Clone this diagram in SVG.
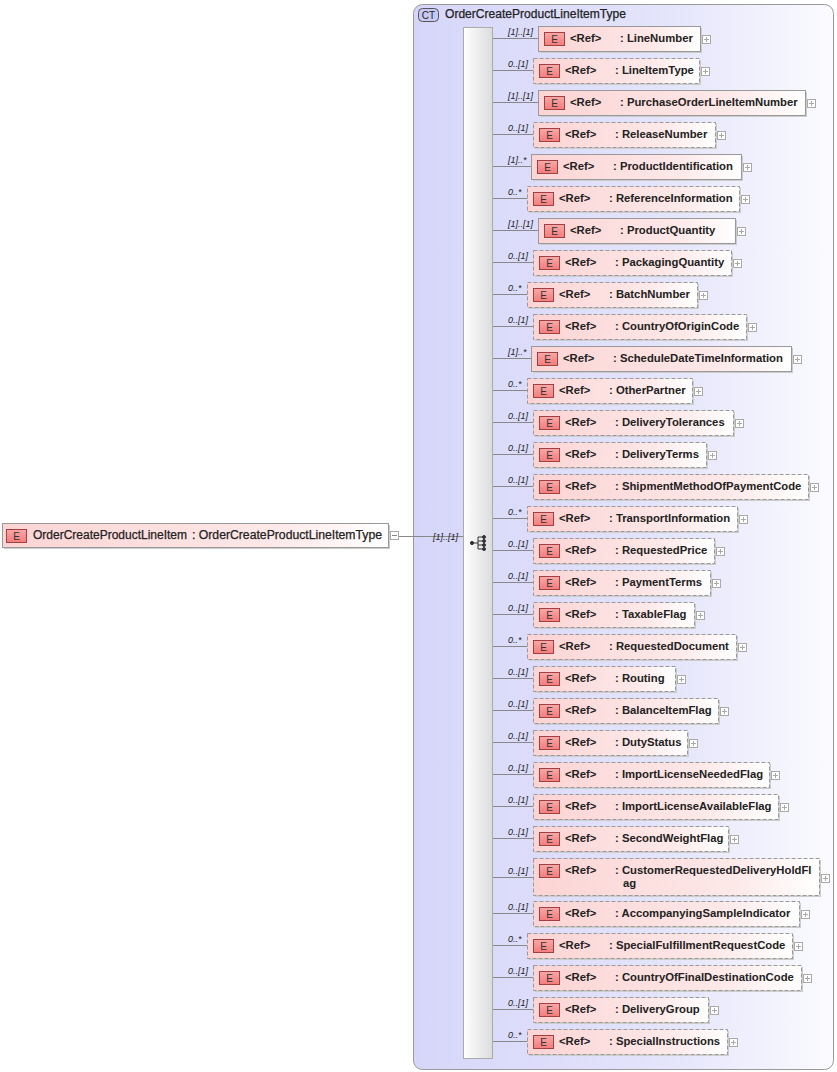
<svg xmlns="http://www.w3.org/2000/svg" width="837" height="1072" viewBox="0 0 837 1072">
<defs>
<linearGradient id="ct" x1="0" y1="0" x2="1" y2="0"><stop offset="0" stop-color="#d6d6fa"/><stop offset="0.6" stop-color="#e4e4fb"/><stop offset="1" stop-color="#fbfbff"/></linearGradient>
<linearGradient id="el" x1="0" y1="0" x2="1" y2="0"><stop offset="0" stop-color="#fcd4d4"/><stop offset="0.7" stop-color="#fde8e8"/><stop offset="1" stop-color="#ffffff"/></linearGradient>
<linearGradient id="seq" x1="0" y1="0" x2="1" y2="0"><stop offset="0" stop-color="#ffffff"/><stop offset="1" stop-color="#dcdcdc"/></linearGradient>
<linearGradient id="eb" x1="0" y1="0" x2="0" y2="1"><stop offset="0" stop-color="#f8a8a8"/><stop offset="1" stop-color="#f47c7c"/></linearGradient>
</defs>
<style>
text{font-family:"Liberation Sans",Arial,sans-serif;fill:#222}
.n{font-size:11.3px;font-weight:bold}
.m{font-size:9px;font-style:italic}
.ln{stroke:#888;stroke-width:1;fill:none}
.bx{fill:url(#el);stroke:#999;stroke-width:1}
.op{stroke-dasharray:4,2}
.sh{fill:#ccc}
.eb{fill:url(#eb);stroke:#a04040;stroke-width:1}
.et{font-size:10px;fill:#333}
.pl{fill:#fff;stroke:#aaa;stroke-width:1}
.rt{font-size:12px;fill:#222;stroke:#222;stroke-width:0.25}
</style>
<g id="ct-box">
<rect x="413.5" y="4.5" width="420" height="1065" rx="9" fill="url(#ct)" stroke="#999"/>
<rect x="418.5" y="8.5" width="20" height="13" rx="4" fill="#c8c8f4" stroke="#555"/>
<text x="428.5" y="19" text-anchor="middle" style="font-size:10px">CT</text>
<text x="445" y="18" class="rt" textLength="181" lengthAdjust="spacingAndGlyphs">OrderCreateProductLineItemType</text>
</g>
<g id="sequence">
<rect x="463.5" y="27.5" width="29" height="1031" fill="url(#seq)" stroke="#aaa"/>
<g fill="#333" stroke="#333">
<circle cx="472" cy="543" r="1.6"/>
<line x1="472" y1="543" x2="478" y2="543"/>
<line x1="478" y1="537" x2="478" y2="549"/>
<line x1="478" y1="537" x2="484" y2="537"/><line x1="478" y1="541" x2="484" y2="541"/><line x1="478" y1="545" x2="484" y2="545"/><line x1="478" y1="549" x2="484" y2="549"/>
<circle cx="484" cy="537" r="1.5"/><circle cx="484" cy="541" r="1.5"/><circle cx="484" cy="545" r="1.5"/><circle cx="484" cy="549" r="1.5"/>
</g>
</g>
<g id="connectors">
<line class="ln" x1="399" y1="536.5" x2="463" y2="536.5"/>
<text x="433" y="540" class="m">[1]..[1]</text>
</g>
<g id="root">
<rect class="sh" x="4" y="525" width="386" height="24"/>
<rect class="bx" x="2.5" y="523.5" width="386" height="24"/>
<rect class="eb" x="6.5" y="529.5" width="20" height="13"/>
<text x="16.5" y="540" text-anchor="middle" class="et">E</text>
<text x="33" y="539" class="rt" textLength="154" lengthAdjust="spacingAndGlyphs">OrderCreateProductLineItem</text>
<text x="192" y="539" class="rt" textLength="190" lengthAdjust="spacingAndGlyphs">: OrderCreateProductLineItemType</text>
<rect class="pl" x="390.5" y="531.5" width="8" height="8"/>
<line x1="392" y1="535.5" x2="397" y2="535.5" stroke="#888"/>
</g>
<g id="r1"><line class="ln" x1="493" y1="38.5" x2="538" y2="38.5"/><text x="508" y="35" class="m">[1]..[1]</text><rect class="sh" x="540" y="28" width="162" height="25"/><rect class="bx" x="538.5" y="26.5" width="162" height="25"/><rect class="eb" x="544.5" y="32.5" width="20" height="13"/><text x="554.5" y="43" text-anchor="middle" class="et">E</text><text x="570" y="42" class="n">&lt;Ref&gt;</text><text x="620" y="42" class="n">: LineNumber</text><rect class="pl" x="702.5" y="35.5" width="8" height="8"/><path d="M704 39.5h5M706.5 37v5" stroke="#aaa"/></g>
<g id="r2"><line class="ln" x1="493" y1="70.5" x2="533" y2="70.5"/><text x="508" y="67" class="m">0..[1]</text><rect class="sh" x="535" y="60" width="166" height="25"/><rect class="bx op" x="533.5" y="58.5" width="166" height="25"/><rect class="eb" x="539.5" y="64.5" width="20" height="13"/><text x="549.5" y="75" text-anchor="middle" class="et">E</text><text x="565" y="74" class="n">&lt;Ref&gt;</text><text x="615" y="74" class="n">: LineItemType</text><rect class="pl" x="701.5" y="67.5" width="8" height="8"/><path d="M703 71.5h5M705.5 69v5" stroke="#aaa"/></g>
<g id="r3"><line class="ln" x1="493" y1="102.5" x2="538" y2="102.5"/><text x="508" y="99" class="m">[1]..[1]</text><rect class="sh" x="540" y="92" width="267" height="25"/><rect class="bx" x="538.5" y="90.5" width="267" height="25"/><rect class="eb" x="544.5" y="96.5" width="20" height="13"/><text x="554.5" y="107" text-anchor="middle" class="et">E</text><text x="570" y="106" class="n">&lt;Ref&gt;</text><text x="620" y="106" class="n">: PurchaseOrderLineItemNumber</text><rect class="pl" x="807.5" y="99.5" width="8" height="8"/><path d="M809 103.5h5M811.5 101v5" stroke="#aaa"/></g>
<g id="r4"><line class="ln" x1="493" y1="134.5" x2="533" y2="134.5"/><text x="508" y="131" class="m">0..[1]</text><rect class="sh" x="535" y="124" width="182" height="25"/><rect class="bx op" x="533.5" y="122.5" width="182" height="25"/><rect class="eb" x="539.5" y="128.5" width="20" height="13"/><text x="549.5" y="139" text-anchor="middle" class="et">E</text><text x="565" y="138" class="n">&lt;Ref&gt;</text><text x="615" y="138" class="n">: ReleaseNumber</text><rect class="pl" x="717.5" y="131.5" width="8" height="8"/><path d="M719 135.5h5M721.5 133v5" stroke="#aaa"/></g>
<g id="r5"><line class="ln" x1="493" y1="166.5" x2="531" y2="166.5"/><text x="508" y="163" class="m">[1]..*</text><rect class="sh" x="533" y="156" width="210" height="25"/><rect class="bx" x="531.5" y="154.5" width="210" height="25"/><rect class="eb" x="537.5" y="160.5" width="20" height="13"/><text x="547.5" y="171" text-anchor="middle" class="et">E</text><text x="563" y="170" class="n">&lt;Ref&gt;</text><text x="613" y="170" class="n">: ProductIdentification</text><rect class="pl" x="743.5" y="163.5" width="8" height="8"/><path d="M745 167.5h5M747.5 165v5" stroke="#aaa"/></g>
<g id="r6"><line class="ln" x1="493" y1="198.5" x2="527" y2="198.5"/><text x="508" y="195" class="m">0..*</text><rect class="sh" x="529" y="188" width="212" height="25"/><rect class="bx op" x="527.5" y="186.5" width="212" height="25"/><rect class="eb" x="533.5" y="192.5" width="20" height="13"/><text x="543.5" y="203" text-anchor="middle" class="et">E</text><text x="559" y="202" class="n">&lt;Ref&gt;</text><text x="609" y="202" class="n">: ReferenceInformation</text><rect class="pl" x="741.5" y="195.5" width="8" height="8"/><path d="M743 199.5h5M745.5 197v5" stroke="#aaa"/></g>
<g id="r7"><line class="ln" x1="493" y1="230.5" x2="538" y2="230.5"/><text x="508" y="227" class="m">[1]..[1]</text><rect class="sh" x="540" y="220" width="197" height="25"/><rect class="bx" x="538.5" y="218.5" width="197" height="25"/><rect class="eb" x="544.5" y="224.5" width="20" height="13"/><text x="554.5" y="235" text-anchor="middle" class="et">E</text><text x="570" y="234" class="n">&lt;Ref&gt;</text><text x="620" y="234" class="n">: ProductQuantity</text><rect class="pl" x="737.5" y="227.5" width="8" height="8"/><path d="M739 231.5h5M741.5 229v5" stroke="#aaa"/></g>
<g id="r8"><line class="ln" x1="493" y1="262.5" x2="533" y2="262.5"/><text x="508" y="259" class="m">0..[1]</text><rect class="sh" x="535" y="252" width="198" height="25"/><rect class="bx op" x="533.5" y="250.5" width="198" height="25"/><rect class="eb" x="539.5" y="256.5" width="20" height="13"/><text x="549.5" y="267" text-anchor="middle" class="et">E</text><text x="565" y="266" class="n">&lt;Ref&gt;</text><text x="615" y="266" class="n">: PackagingQuantity</text><rect class="pl" x="733.5" y="259.5" width="8" height="8"/><path d="M735 263.5h5M737.5 261v5" stroke="#aaa"/></g>
<g id="r9"><line class="ln" x1="493" y1="294.5" x2="527" y2="294.5"/><text x="508" y="291" class="m">0..*</text><rect class="sh" x="529" y="284" width="170" height="25"/><rect class="bx op" x="527.5" y="282.5" width="170" height="25"/><rect class="eb" x="533.5" y="288.5" width="20" height="13"/><text x="543.5" y="299" text-anchor="middle" class="et">E</text><text x="559" y="298" class="n">&lt;Ref&gt;</text><text x="609" y="298" class="n">: BatchNumber</text><rect class="pl" x="699.5" y="291.5" width="8" height="8"/><path d="M701 295.5h5M703.5 293v5" stroke="#aaa"/></g>
<g id="r10"><line class="ln" x1="493" y1="326.5" x2="533" y2="326.5"/><text x="508" y="323" class="m">0..[1]</text><rect class="sh" x="535" y="316" width="213" height="25"/><rect class="bx op" x="533.5" y="314.5" width="213" height="25"/><rect class="eb" x="539.5" y="320.5" width="20" height="13"/><text x="549.5" y="331" text-anchor="middle" class="et">E</text><text x="565" y="330" class="n">&lt;Ref&gt;</text><text x="615" y="330" class="n">: CountryOfOriginCode</text><rect class="pl" x="748.5" y="323.5" width="8" height="8"/><path d="M750 327.5h5M752.5 325v5" stroke="#aaa"/></g>
<g id="r11"><line class="ln" x1="493" y1="358.5" x2="531" y2="358.5"/><text x="508" y="355" class="m">[1]..*</text><rect class="sh" x="533" y="348" width="260" height="25"/><rect class="bx" x="531.5" y="346.5" width="260" height="25"/><rect class="eb" x="537.5" y="352.5" width="20" height="13"/><text x="547.5" y="363" text-anchor="middle" class="et">E</text><text x="563" y="362" class="n">&lt;Ref&gt;</text><text x="613" y="362" class="n">: ScheduleDateTimeInformation</text><rect class="pl" x="793.5" y="355.5" width="8" height="8"/><path d="M795 359.5h5M797.5 357v5" stroke="#aaa"/></g>
<g id="r12"><line class="ln" x1="493" y1="390.5" x2="527" y2="390.5"/><text x="508" y="387" class="m">0..*</text><rect class="sh" x="529" y="380" width="165" height="25"/><rect class="bx op" x="527.5" y="378.5" width="165" height="25"/><rect class="eb" x="533.5" y="384.5" width="20" height="13"/><text x="543.5" y="395" text-anchor="middle" class="et">E</text><text x="559" y="394" class="n">&lt;Ref&gt;</text><text x="609" y="394" class="n">: OtherPartner</text><rect class="pl" x="694.5" y="387.5" width="8" height="8"/><path d="M696 391.5h5M698.5 389v5" stroke="#aaa"/></g>
<g id="r13"><line class="ln" x1="493" y1="422.5" x2="533" y2="422.5"/><text x="508" y="419" class="m">0..[1]</text><rect class="sh" x="535" y="412" width="200" height="25"/><rect class="bx op" x="533.5" y="410.5" width="200" height="25"/><rect class="eb" x="539.5" y="416.5" width="20" height="13"/><text x="549.5" y="427" text-anchor="middle" class="et">E</text><text x="565" y="426" class="n">&lt;Ref&gt;</text><text x="615" y="426" class="n">: DeliveryTolerances</text><rect class="pl" x="735.5" y="419.5" width="8" height="8"/><path d="M737 423.5h5M739.5 421v5" stroke="#aaa"/></g>
<g id="r14"><line class="ln" x1="493" y1="454.5" x2="533" y2="454.5"/><text x="508" y="451" class="m">0..[1]</text><rect class="sh" x="535" y="444" width="173" height="25"/><rect class="bx op" x="533.5" y="442.5" width="173" height="25"/><rect class="eb" x="539.5" y="448.5" width="20" height="13"/><text x="549.5" y="459" text-anchor="middle" class="et">E</text><text x="565" y="458" class="n">&lt;Ref&gt;</text><text x="615" y="458" class="n">: DeliveryTerms</text><rect class="pl" x="708.5" y="451.5" width="8" height="8"/><path d="M710 455.5h5M712.5 453v5" stroke="#aaa"/></g>
<g id="r15"><line class="ln" x1="493" y1="486.5" x2="533" y2="486.5"/><text x="508" y="483" class="m">0..[1]</text><rect class="sh" x="535" y="476" width="275" height="25"/><rect class="bx op" x="533.5" y="474.5" width="275" height="25"/><rect class="eb" x="539.5" y="480.5" width="20" height="13"/><text x="549.5" y="491" text-anchor="middle" class="et">E</text><text x="565" y="490" class="n">&lt;Ref&gt;</text><text x="615" y="490" class="n">: ShipmentMethodOfPaymentCode</text><rect class="pl" x="810.5" y="483.5" width="8" height="8"/><path d="M812 487.5h5M814.5 485v5" stroke="#aaa"/></g>
<g id="r16"><line class="ln" x1="493" y1="518.5" x2="527" y2="518.5"/><text x="508" y="515" class="m">0..*</text><rect class="sh" x="529" y="508" width="210" height="25"/><rect class="bx op" x="527.5" y="506.5" width="210" height="25"/><rect class="eb" x="533.5" y="512.5" width="20" height="13"/><text x="543.5" y="523" text-anchor="middle" class="et">E</text><text x="559" y="522" class="n">&lt;Ref&gt;</text><text x="609" y="522" class="n">: TransportInformation</text><rect class="pl" x="739.5" y="515.5" width="8" height="8"/><path d="M741 519.5h5M743.5 517v5" stroke="#aaa"/></g>
<g id="r17"><line class="ln" x1="493" y1="550.5" x2="533" y2="550.5"/><text x="508" y="547" class="m">0..[1]</text><rect class="sh" x="535" y="540" width="181" height="25"/><rect class="bx op" x="533.5" y="538.5" width="181" height="25"/><rect class="eb" x="539.5" y="544.5" width="20" height="13"/><text x="549.5" y="555" text-anchor="middle" class="et">E</text><text x="565" y="554" class="n">&lt;Ref&gt;</text><text x="615" y="554" class="n">: RequestedPrice</text><rect class="pl" x="716.5" y="547.5" width="8" height="8"/><path d="M718 551.5h5M720.5 549v5" stroke="#aaa"/></g>
<g id="r18"><line class="ln" x1="493" y1="582.5" x2="533" y2="582.5"/><text x="508" y="579" class="m">0..[1]</text><rect class="sh" x="535" y="572" width="177" height="25"/><rect class="bx op" x="533.5" y="570.5" width="177" height="25"/><rect class="eb" x="539.5" y="576.5" width="20" height="13"/><text x="549.5" y="587" text-anchor="middle" class="et">E</text><text x="565" y="586" class="n">&lt;Ref&gt;</text><text x="615" y="586" class="n">: PaymentTerms</text><rect class="pl" x="712.5" y="579.5" width="8" height="8"/><path d="M714 583.5h5M716.5 581v5" stroke="#aaa"/></g>
<g id="r19"><line class="ln" x1="493" y1="614.5" x2="533" y2="614.5"/><text x="508" y="611" class="m">0..[1]</text><rect class="sh" x="535" y="604" width="161" height="25"/><rect class="bx op" x="533.5" y="602.5" width="161" height="25"/><rect class="eb" x="539.5" y="608.5" width="20" height="13"/><text x="549.5" y="619" text-anchor="middle" class="et">E</text><text x="565" y="618" class="n">&lt;Ref&gt;</text><text x="615" y="618" class="n">: TaxableFlag</text><rect class="pl" x="696.5" y="611.5" width="8" height="8"/><path d="M698 615.5h5M700.5 613v5" stroke="#aaa"/></g>
<g id="r20"><line class="ln" x1="493" y1="646.5" x2="527" y2="646.5"/><text x="508" y="643" class="m">0..*</text><rect class="sh" x="529" y="636" width="209" height="25"/><rect class="bx op" x="527.5" y="634.5" width="209" height="25"/><rect class="eb" x="533.5" y="640.5" width="20" height="13"/><text x="543.5" y="651" text-anchor="middle" class="et">E</text><text x="559" y="650" class="n">&lt;Ref&gt;</text><text x="609" y="650" class="n">: RequestedDocument</text><rect class="pl" x="738.5" y="643.5" width="8" height="8"/><path d="M740 647.5h5M742.5 645v5" stroke="#aaa"/></g>
<g id="r21"><line class="ln" x1="493" y1="678.5" x2="533" y2="678.5"/><text x="508" y="675" class="m">0..[1]</text><rect class="sh" x="535" y="668" width="142" height="25"/><rect class="bx op" x="533.5" y="666.5" width="142" height="25"/><rect class="eb" x="539.5" y="672.5" width="20" height="13"/><text x="549.5" y="683" text-anchor="middle" class="et">E</text><text x="565" y="682" class="n">&lt;Ref&gt;</text><text x="615" y="682" class="n">: Routing</text><rect class="pl" x="677.5" y="675.5" width="8" height="8"/><path d="M679 679.5h5M681.5 677v5" stroke="#aaa"/></g>
<g id="r22"><line class="ln" x1="493" y1="710.5" x2="533" y2="710.5"/><text x="508" y="707" class="m">0..[1]</text><rect class="sh" x="535" y="700" width="185" height="25"/><rect class="bx op" x="533.5" y="698.5" width="185" height="25"/><rect class="eb" x="539.5" y="704.5" width="20" height="13"/><text x="549.5" y="715" text-anchor="middle" class="et">E</text><text x="565" y="714" class="n">&lt;Ref&gt;</text><text x="615" y="714" class="n">: BalanceItemFlag</text><rect class="pl" x="720.5" y="707.5" width="8" height="8"/><path d="M722 711.5h5M724.5 709v5" stroke="#aaa"/></g>
<g id="r23"><line class="ln" x1="493" y1="742.5" x2="533" y2="742.5"/><text x="508" y="739" class="m">0..[1]</text><rect class="sh" x="535" y="732" width="154" height="25"/><rect class="bx op" x="533.5" y="730.5" width="154" height="25"/><rect class="eb" x="539.5" y="736.5" width="20" height="13"/><text x="549.5" y="747" text-anchor="middle" class="et">E</text><text x="565" y="746" class="n">&lt;Ref&gt;</text><text x="615" y="746" class="n">: DutyStatus</text><rect class="pl" x="689.5" y="739.5" width="8" height="8"/><path d="M691 743.5h5M693.5 741v5" stroke="#aaa"/></g>
<g id="r24"><line class="ln" x1="493" y1="774.5" x2="533" y2="774.5"/><text x="508" y="771" class="m">0..[1]</text><rect class="sh" x="535" y="764" width="236" height="25"/><rect class="bx op" x="533.5" y="762.5" width="236" height="25"/><rect class="eb" x="539.5" y="768.5" width="20" height="13"/><text x="549.5" y="779" text-anchor="middle" class="et">E</text><text x="565" y="778" class="n">&lt;Ref&gt;</text><text x="615" y="778" class="n">: ImportLicenseNeededFlag</text><rect class="pl" x="771.5" y="771.5" width="8" height="8"/><path d="M773 775.5h5M775.5 773v5" stroke="#aaa"/></g>
<g id="r25"><line class="ln" x1="493" y1="806.5" x2="533" y2="806.5"/><text x="508" y="803" class="m">0..[1]</text><rect class="sh" x="535" y="796" width="245" height="25"/><rect class="bx op" x="533.5" y="794.5" width="245" height="25"/><rect class="eb" x="539.5" y="800.5" width="20" height="13"/><text x="549.5" y="811" text-anchor="middle" class="et">E</text><text x="565" y="810" class="n">&lt;Ref&gt;</text><text x="615" y="810" class="n">: ImportLicenseAvailableFlag</text><rect class="pl" x="780.5" y="803.5" width="8" height="8"/><path d="M782 807.5h5M784.5 805v5" stroke="#aaa"/></g>
<g id="r26"><line class="ln" x1="493" y1="838.5" x2="533" y2="838.5"/><text x="508" y="835" class="m">0..[1]</text><rect class="sh" x="535" y="828" width="195" height="25"/><rect class="bx op" x="533.5" y="826.5" width="195" height="25"/><rect class="eb" x="539.5" y="832.5" width="20" height="13"/><text x="549.5" y="843" text-anchor="middle" class="et">E</text><text x="565" y="842" class="n">&lt;Ref&gt;</text><text x="615" y="842" class="n">: SecondWeightFlag</text><rect class="pl" x="730.5" y="835.5" width="8" height="8"/><path d="M732 839.5h5M734.5 837v5" stroke="#aaa"/></g>
<g id="r27"><line class="ln" x1="493" y1="877.5" x2="533" y2="877.5"/><text x="508" y="874" class="m">0..[1]</text><rect class="sh" x="535" y="860" width="286" height="37"/><rect class="bx op" x="533.5" y="858.5" width="286" height="37"/><rect class="eb" x="539.5" y="864.5" width="20" height="13"/><text x="549.5" y="875" text-anchor="middle" class="et">E</text><text x="565" y="874" class="n">&lt;Ref&gt;</text><text x="615" y="874" class="n">: CustomerRequestedDeliveryHoldFl</text><text x="623" y="887" class="n">ag</text><rect class="pl" x="821.5" y="874.5" width="8" height="8"/><path d="M823 878.5h5M825.5 876v5" stroke="#aaa"/></g>
<g id="r28"><line class="ln" x1="493" y1="913.5" x2="533" y2="913.5"/><text x="508" y="910" class="m">0..[1]</text><rect class="sh" x="535" y="903" width="266" height="25"/><rect class="bx op" x="533.5" y="901.5" width="266" height="25"/><rect class="eb" x="539.5" y="907.5" width="20" height="13"/><text x="549.5" y="918" text-anchor="middle" class="et">E</text><text x="565" y="917" class="n">&lt;Ref&gt;</text><text x="615" y="917" class="n">: AccompanyingSampleIndicator</text><rect class="pl" x="801.5" y="910.5" width="8" height="8"/><path d="M803 914.5h5M805.5 912v5" stroke="#aaa"/></g>
<g id="r29"><line class="ln" x1="493" y1="945.5" x2="527" y2="945.5"/><text x="508" y="942" class="m">0..*</text><rect class="sh" x="529" y="935" width="265" height="25"/><rect class="bx op" x="527.5" y="933.5" width="265" height="25"/><rect class="eb" x="533.5" y="939.5" width="20" height="13"/><text x="543.5" y="950" text-anchor="middle" class="et">E</text><text x="559" y="949" class="n">&lt;Ref&gt;</text><text x="609" y="949" class="n">: SpecialFulfillmentRequestCode</text><rect class="pl" x="794.5" y="942.5" width="8" height="8"/><path d="M796 946.5h5M798.5 944v5" stroke="#aaa"/></g>
<g id="r30"><line class="ln" x1="493" y1="977.5" x2="533" y2="977.5"/><text x="508" y="974" class="m">0..[1]</text><rect class="sh" x="535" y="967" width="268" height="25"/><rect class="bx op" x="533.5" y="965.5" width="268" height="25"/><rect class="eb" x="539.5" y="971.5" width="20" height="13"/><text x="549.5" y="982" text-anchor="middle" class="et">E</text><text x="565" y="981" class="n">&lt;Ref&gt;</text><text x="615" y="981" class="n">: CountryOfFinalDestinationCode</text><rect class="pl" x="803.5" y="974.5" width="8" height="8"/><path d="M805 978.5h5M807.5 976v5" stroke="#aaa"/></g>
<g id="r31"><line class="ln" x1="493" y1="1009.5" x2="533" y2="1009.5"/><text x="508" y="1006" class="m">0..[1]</text><rect class="sh" x="535" y="999" width="175" height="25"/><rect class="bx op" x="533.5" y="997.5" width="175" height="25"/><rect class="eb" x="539.5" y="1003.5" width="20" height="13"/><text x="549.5" y="1014" text-anchor="middle" class="et">E</text><text x="565" y="1013" class="n">&lt;Ref&gt;</text><text x="615" y="1013" class="n">: DeliveryGroup</text><rect class="pl" x="710.5" y="1006.5" width="8" height="8"/><path d="M712 1010.5h5M714.5 1008v5" stroke="#aaa"/></g>
<g id="r32"><line class="ln" x1="493" y1="1041.5" x2="527" y2="1041.5"/><text x="508" y="1038" class="m">0..*</text><rect class="sh" x="529" y="1031" width="200" height="25"/><rect class="bx op" x="527.5" y="1029.5" width="200" height="25"/><rect class="eb" x="533.5" y="1035.5" width="20" height="13"/><text x="543.5" y="1046" text-anchor="middle" class="et">E</text><text x="559" y="1045" class="n">&lt;Ref&gt;</text><text x="609" y="1045" class="n">: SpecialInstructions</text><rect class="pl" x="729.5" y="1038.5" width="8" height="8"/><path d="M731 1042.5h5M733.5 1040v5" stroke="#aaa"/></g>
</svg>
